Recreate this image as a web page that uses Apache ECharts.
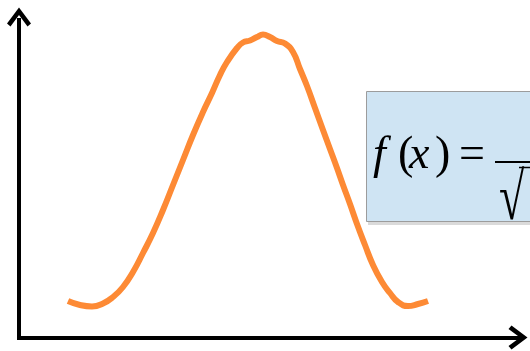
<!DOCTYPE html>
<html>
<head>
<meta charset="utf-8">
<script src="https://cdn.jsdelivr.net/npm/echarts@6/dist/echarts.min.js"></script>
<style>
  html, body { margin: 0; padding: 0; background: #ffffff; }
  #chart { width: 530px; height: 351px; }
</style>
</head>
<body>
<div id="chart"></div>
<script>
// Bell-shaped curve samples (x, f(x)) in axis units
const curveX = [49, 61, 73, 84, 94, 104, 114, 124, 134, 144, 154, 164, 174, 184, 193, 201, 208, 218, 224, 231,
  238, 244, 251, 258, 266, 274, 281, 288, 296, 304, 311, 318, 324, 331, 338, 346, 354, 363, 371, 379, 389, 399, 409];
const curveY = [36.5, 32.5, 31, 34, 40.5, 50.5, 65.5, 84.5, 104.5, 127.5, 152.5, 177.5, 202.5, 225.5, 244.5, 262.5,
  275.5, 289.5, 295, 297, 300.5, 303, 300.5, 296.5, 294, 285.5, 268.5, 251.5, 229.5, 207.5, 188.5, 169.5,
  152.5, 133.5, 113.5, 92.5, 72.5, 55.5, 44.5, 35.5, 31.5, 33.5, 36.5];

// Axis extents
const xRange = [0, 503];
const yRange = [0, 317.5];

const chevron = 'path://M0,16 L12,0 L24,16 L20.5,19 L12,7.5 L3.5,19 Z';

const axisLineStyle = {
  show: true,
  symbol: ['none', chevron],
  symbolSize: [24, 19],
  lineStyle: { color: '#000000', width: 4, cap: 'square' }
};

const mathFont = '"Liberation Serif", "Times New Roman", serif';

function glyph(text, x, italic) {
  return {
    type: 'text', x: x, y: 133, z: 12,
    style: { text: text, font: (italic ? 'italic ' : '') + '46px ' + mathFont, fill: '#000' }
  };
}

const chart = echarts.init(document.getElementById('chart'), null, { renderer: 'canvas' });

chart.setOption({
  animation: false,
  backgroundColor: '#ffffff',
  grid: { left: 19, right: 8, top: 20, bottom: 13.5, containLabel: false },
  xAxis: {
    type: 'value', min: xRange[0], max: xRange[1],
    axisLine: Object.assign({}, axisLineStyle, { symbolOffset: [0, -4] }),
    axisTick: { show: false }, axisLabel: { show: false }, splitLine: { show: false }
  },
  yAxis: {
    type: 'value', min: yRange[0], max: yRange[1],
    axisLine: Object.assign({}, axisLineStyle, { symbolOffset: [0, 3] }),
    axisTick: { show: false }, axisLabel: { show: false }, splitLine: { show: false }
  },
  series: [{
    type: 'line',
    data: curveX.map((x, i) => [x, curveY[i]]),
    smooth: 0.5,
    showSymbol: false,
    lineStyle: { color: '#fd8a35', width: 6, cap: 'butt', join: 'round' },
    z: 3
  }],
  graphic: [
    // formula card
    { type: 'rect', shape: { x: 368, y: 94, width: 200, height: 131 }, style: { fill: '#dadada' }, z: 10 },
    { type: 'rect', shape: { x: 366.5, y: 91.5, width: 200, height: 130 },
      style: { fill: '#cfe4f3', stroke: '#9c9c9c', lineWidth: 1 }, z: 11 },
    glyph('f', 373, true),
    glyph('(', 398, false),
    glyph('x', 409, true),
    glyph(')', 435, false),
    glyph('=', 459, false),
    { type: 'line', shape: { x1: 495, y1: 162, x2: 540, y2: 162 }, style: { stroke: '#000', lineWidth: 2 }, z: 12 },
    { type: 'text', x: 499, y: 168, scaleY: 1.45, z: 12,
      style: { text: '√', font: '46px ' + mathFont, fill: '#000' } },
    { type: 'line', shape: { x1: 519, y1: 167.5, x2: 540, y2: 167.5 }, style: { stroke: '#000', lineWidth: 1.5 }, z: 12 }
  ]
});
</script>
</body>
</html>
